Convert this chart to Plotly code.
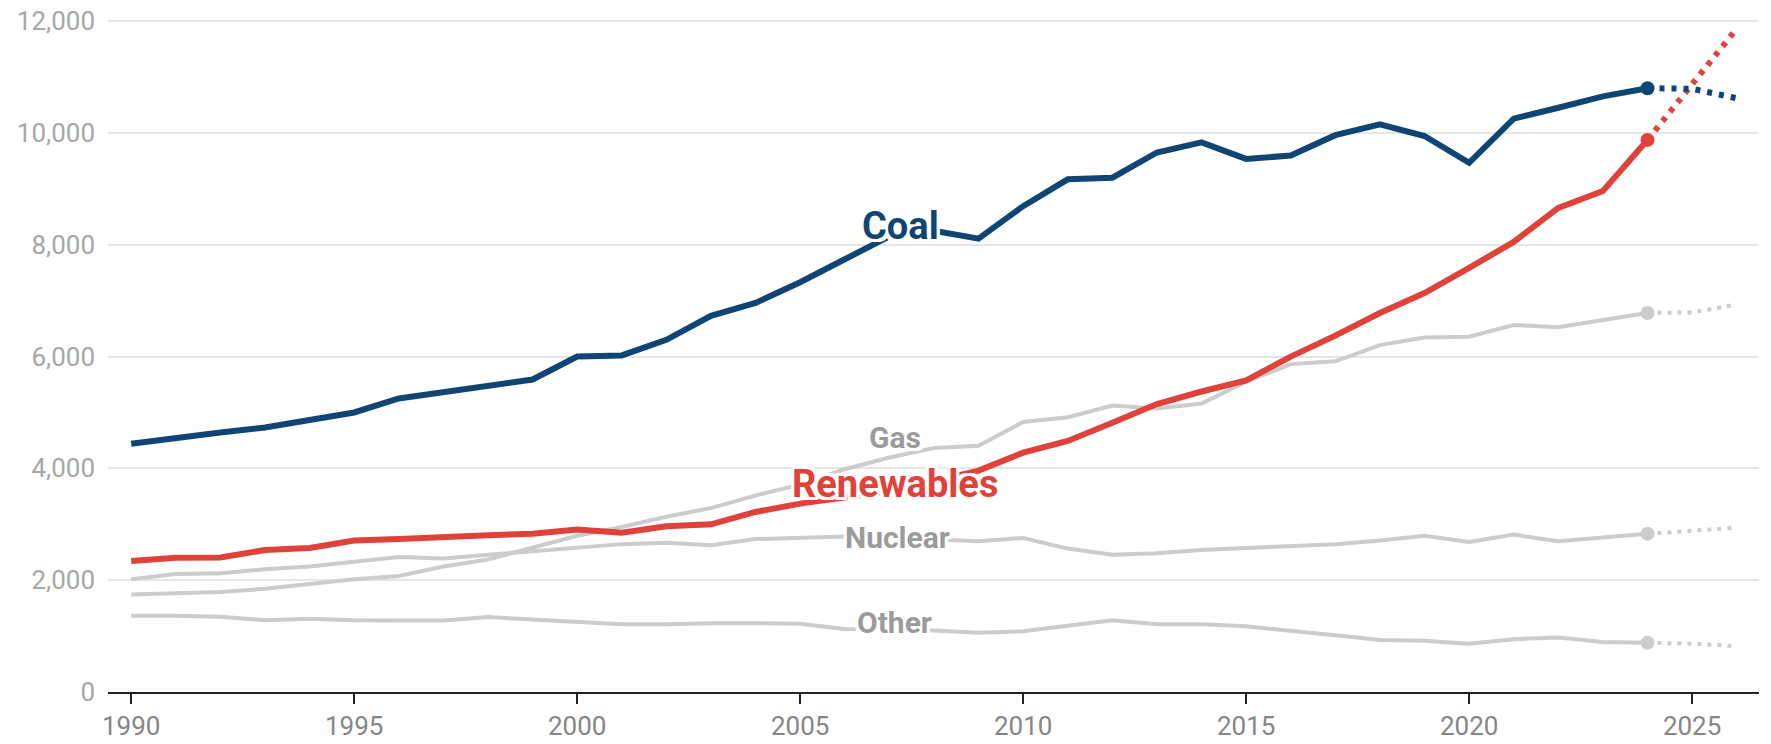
import plotly.graph_objects as go

years = list(range(1990, 2025))
proj_years = [2024, 2025, 2026]

coal = [4440, 4550, 4640, 4730, 4870, 5000, 5250, 5360, 5470, 5590,
        6000, 6020, 6300, 6730, 6960, 7330, 7740, 8150, 8250, 8110,
        8690, 9170, 9200, 9650, 9830, 9535, 9595, 9960, 10155, 9945,
        9465, 10255, 10450, 10655, 10800]
renewables = [2345, 2400, 2405, 2540, 2575, 2710, 2735, 2780, 2805, 2830,
              2905, 2850, 2965, 3000, 3220, 3370, 3480, 3590, 3770, 3960,
              4280, 4490, 4815, 5150, 5375, 5575, 6000, 6375, 6780, 7135,
              7585, 8050, 8660, 8960, 9875]
gas = [1745, 1770, 1790, 1845, 1925, 2015, 2075, 2245, 2370, 2585,
       2795, 2950, 3135, 3290, 3515, 3710, 3985, 4195, 4365, 4405,
       4830, 4915, 5125, 5070, 5160, 5550, 5865, 5915, 6205, 6340,
       6355, 6565, 6525, 6655, 6780]
nuclear = [2015, 2110, 2125, 2195, 2245, 2330, 2415, 2390, 2455, 2525,
           2585, 2645, 2670, 2625, 2735, 2760, 2780, 2720, 2730, 2695,
           2755, 2565, 2455, 2480, 2540, 2575, 2610, 2645, 2710, 2795,
           2685, 2815, 2695, 2755, 2830]
other = [1365, 1365, 1345, 1285, 1310, 1285, 1280, 1280, 1340, 1295,
         1245, 1210, 1210, 1230, 1230, 1220, 1125, 1115, 1100, 1060,
         1085, 1185, 1285, 1210, 1210, 1175, 1100, 1015, 930, 915,
         865, 945, 975, 895, 880]

coal_proj = [10800, 10790, 10620]
renewables_proj = [9875, 10850, 11865]
gas_proj = [6780, 6790, 6930]
nuclear_proj = [2830, 2880, 2940]
other_proj = [880, 865, 820]

x_ticks = [1990, 1995, 2000, 2005, 2010, 2015, 2020, 2025]
y_ticks = [0, 2000, 4000, 6000, 8000, 10000, 12000]

BLUE = '#0e4574'
RED = '#e0423a'
GREY = '#cccccc'
LABEL_GREY = '#9b9b9b'

halo = ', '.join(f'{dx}px {dy}px 0 #fff' for dx in (-3, 0, 3) for dy in (-3, 0, 3)
                 if (dx, dy) != (0, 0))

fig = go.Figure()

# name, history, projection, colour, line width, dot pattern
series = [
    ('Other', other, other_proj, GREY, 4, '4px,6px'),
    ('Nuclear', nuclear, nuclear_proj, GREY, 4, '4px,6px'),
    ('Gas', gas, gas_proj, GREY, 4, '4px,6px'),
    ('Renewables', renewables, renewables_proj, RED, 6, '5px,7px'),
    ('Coal', coal, coal_proj, BLUE, 6, '5px,7px'),
]

for name, vals, proj, color, width, dots in series:
    fig.add_trace(go.Scatter(x=years, y=vals, mode='lines', name=name,
                             line=dict(color=color, width=width),
                             hoverinfo='skip', cliponaxis=False))
    fig.add_trace(go.Scatter(x=proj_years, y=proj, mode='lines',
                             line=dict(color=color, width=width, dash=dots),
                             hoverinfo='skip', cliponaxis=False))
    fig.add_trace(go.Scatter(x=[years[-1]], y=[vals[-1]], mode='markers',
                             marker=dict(color=color, size=14),
                             hoverinfo='skip', cliponaxis=False))

labels = [
    ('Coal', 2007.24, 8330, BLUE, 38),
    ('Renewables', 2007.12, 3720, RED, 38),
    ('Gas', 2007.12, 4560, LABEL_GREY, 30),
    ('Nuclear', 2007.18, 2760, LABEL_GREY, 30),
    ('Other', 2007.12, 1250, LABEL_GREY, 30),
]
for text, x, y, color, size in labels:
    fig.add_annotation(x=x, y=y, text=f'<b>{text}</b>', showarrow=False,
                       font=dict(family='Roboto', size=size, color=color, shadow=halo))

# the page body adds an 8px offset, so the margins are trimmed to match
fig.update_layout(
    width=1771, height=744,
    margin=dict(l=100, r=20, t=12, b=60),
    paper_bgcolor='white', plot_bgcolor='white',
    showlegend=False,
    font=dict(family='Roboto'),
)
fig.update_xaxes(range=[1989.48, 2026.5], tickvals=x_ticks, automargin=False,
                 showgrid=False, showline=True, linecolor='#222', linewidth=2,
                 ticks='outside', ticklen=10, tickwidth=2, tickcolor='#222',
                 ticklabeloverflow='allow',
                 tickfont=dict(size=26, color='#858585'), zeroline=False)
fig.update_yaxes(range=[0, 12020], tickvals=y_ticks, tickformat=',', automargin=False,
                 showgrid=True, gridcolor='#e6e6e6', gridwidth=2,
                 zeroline=False, showline=False, ticklabelstandoff=12,
                 ticklabeloverflow='allow',
                 tickfont=dict(size=26, color='#a6a6a6'))

fig.write_html('out.html')
